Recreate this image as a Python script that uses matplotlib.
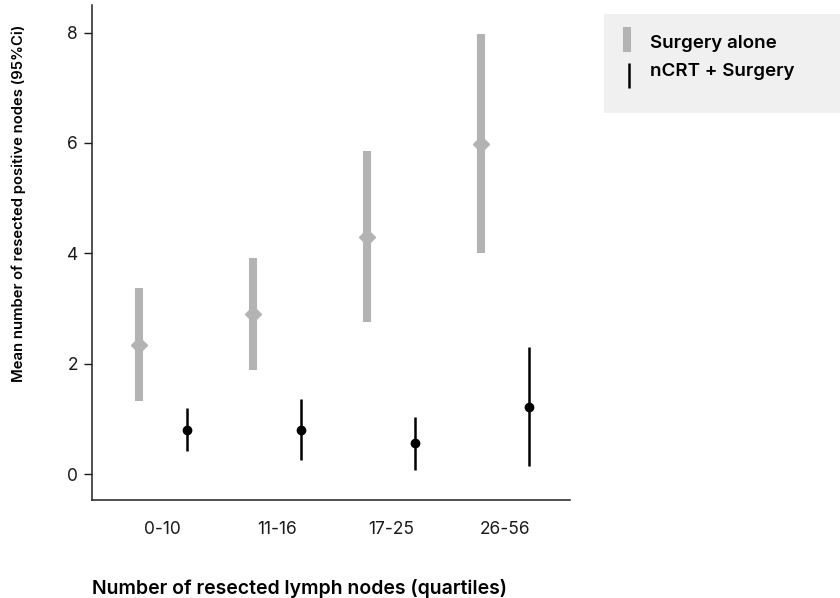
import matplotlib
matplotlib.use('Agg')
import matplotlib.pyplot as plt
from matplotlib.patches import Rectangle
from matplotlib.lines import Line2D
import numpy as np

plt.rcParams['font.family'] = ['Inter', 'DejaVu Sans']

categories = ['0-10', '11-16', '17-25', '26-56']

# Surgery alone: mean and 95% CI
surg_mean = [2.34, 2.90, 4.30, 5.98]
surg_low = [1.33, 1.88, 2.75, 4.00]
surg_high = [3.37, 3.91, 5.86, 7.98]

# nCRT + Surgery: mean and 95% CI
ncrt_mean = [0.80, 0.80, 0.56, 1.22]
ncrt_low = [0.41, 0.25, 0.08, 0.15]
ncrt_high = [1.20, 1.36, 1.04, 2.30]

gray = '#b3b3b3'
W, H = 840, 598
fig = plt.figure(figsize=(W / 100, H / 100), dpi=100)
ax = fig.add_axes([92 / W, 1 - 500 / H, (570 - 92) / W, (500 - 5) / H])

x = np.arange(len(categories))
off = 0.21

sm = np.array(surg_mean)
ax.errorbar(x - off, sm, yerr=[sm - np.array(surg_low), np.array(surg_high) - sm],
            fmt='D', color=gray, ecolor=gray, elinewidth=5.8, markersize=8,
            capsize=0, zorder=2)
nm = np.array(ncrt_mean)
ax.errorbar(x + off, nm, yerr=[nm - np.array(ncrt_low), np.array(ncrt_high) - nm],
            fmt='o', color='black', ecolor='black', elinewidth=1.8, markersize=6,
            capsize=0, zorder=3)

ax.set_xlim(-0.62, 3.57)
ax.set_ylim(-0.47, 8.5)
ax.set_xticks(x)
ax.set_xticklabels(categories)
ax.set_yticks([0, 2, 4, 6, 8])
ax.tick_params(axis='x', length=0, pad=15, labelsize=12.5, colors='#1a1a1a')
ax.tick_params(axis='y', length=6, width=1, pad=4, labelsize=12.5, colors='#1a1a1a')
for s in ['top', 'right']:
    ax.spines[s].set_visible(False)
for s in ['left', 'bottom']:
    ax.spines[s].set_linewidth(1.1)
    ax.spines[s].set_color('#222222')

fig.text(92 / W, 1 - 588 / H, 'Number of resected lymph nodes (quartiles)',
         ha='left', va='center', fontsize=14, fontweight='semibold')
fig.text(19 / W, 1 - 203 / H, 'Mean number of resected positive nodes (95%Ci)',
         ha='center', va='center', rotation=90, fontsize=10.7, fontweight='semibold')

# legend box
fig.add_artist(Rectangle((604 / W, 1 - 113 / H), (W - 604) / W, 99 / H,
                         transform=fig.transFigure, facecolor='#f0f0f0',
                         edgecolor='none'))
fig.add_artist(Line2D([627 / W, 627 / W], [1 - 27 / H, 1 - 52 / H],
                      transform=fig.transFigure, color=gray, linewidth=5.8,
                      solid_capstyle='butt'))
fig.add_artist(Line2D([629 / W, 629 / W], [1 - 63 / H, 1 - 88 / H],
                      transform=fig.transFigure, color='black', linewidth=1.8,
                      solid_capstyle='butt'))
fig.text(650 / W, 1 - 44 / H, 'Surgery alone', ha='left', va='center',
         fontsize=13.5, fontweight='semibold')
fig.text(650 / W, 1 - 71 / H, 'nCRT + Surgery', ha='left', va='center',
         fontsize=13.5, fontweight='semibold')

fig.savefig('out.png', dpi=100)
